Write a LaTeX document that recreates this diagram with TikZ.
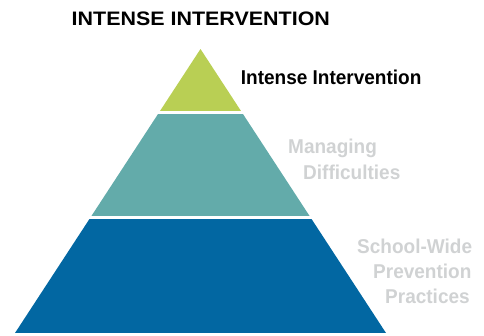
\documentclass[tikz,border=0pt]{standalone}
\usepackage{fontspec}
\setmainfont{Liberation Sans}
\usepackage{graphicx}
\definecolor{tgreen}{HTML}{B9CF54}
\definecolor{tteal}{HTML}{63ABAA}
\definecolor{tblue}{HTML}{0267A2}
\definecolor{tgrey}{HTML}{D0D2D3}
\tikzset{
  lbl/.style={anchor=base west, inner sep=0pt, font=\fontsize{20}{20}\selectfont\bfseries},
  ttl/.style={anchor=base west, inner sep=0pt, font=\fontsize{19.5}{20}\selectfont\bfseries},
}
\newcommand{\cnd}[1]{\scalebox{0.95}[1]{#1}}
\begin{document}
\begin{tikzpicture}[x=1pt,y=-1pt]
\useasboundingbox (0,0) rectangle (484,335);
\coordinate (apex) at (200.5,49);
\coordinate (bl) at (15,333);
\coordinate (br) at (386,333);
\begin{scope}
  \clip (apex) -- (bl) -- (br) -- cycle;
  \fill[tgreen] (0,40) rectangle (484,111);
  \fill[tteal] (0,114) rectangle (484,216);
  \fill[tblue] (0,218.5) rectangle (484,333);
\end{scope}
\node[ttl] (title) at (71.5,25.7) {\scalebox{1.1}[1]{INTENSE INTERVENTION}};
\node[lbl] (l1) at (240.7,84.7) {\cnd{Intense Intervention}};
\node[lbl, text=tgrey] (l2a) at (288,153.7) {\cnd{Managing}};
\node[lbl, text=tgrey] (l2b) at (303,179.7) {\cnd{Difficulties}};
\node[lbl, text=tgrey] (l3a) at (357,253.7) {\cnd{School-Wide}};
\node[lbl, text=tgrey] (l3b) at (373,278.7) {\cnd{Prevention}};
\node[lbl, text=tgrey] (l3c) at (385,303.7) {\cnd{Practices}};
\end{tikzpicture}
\end{document}
